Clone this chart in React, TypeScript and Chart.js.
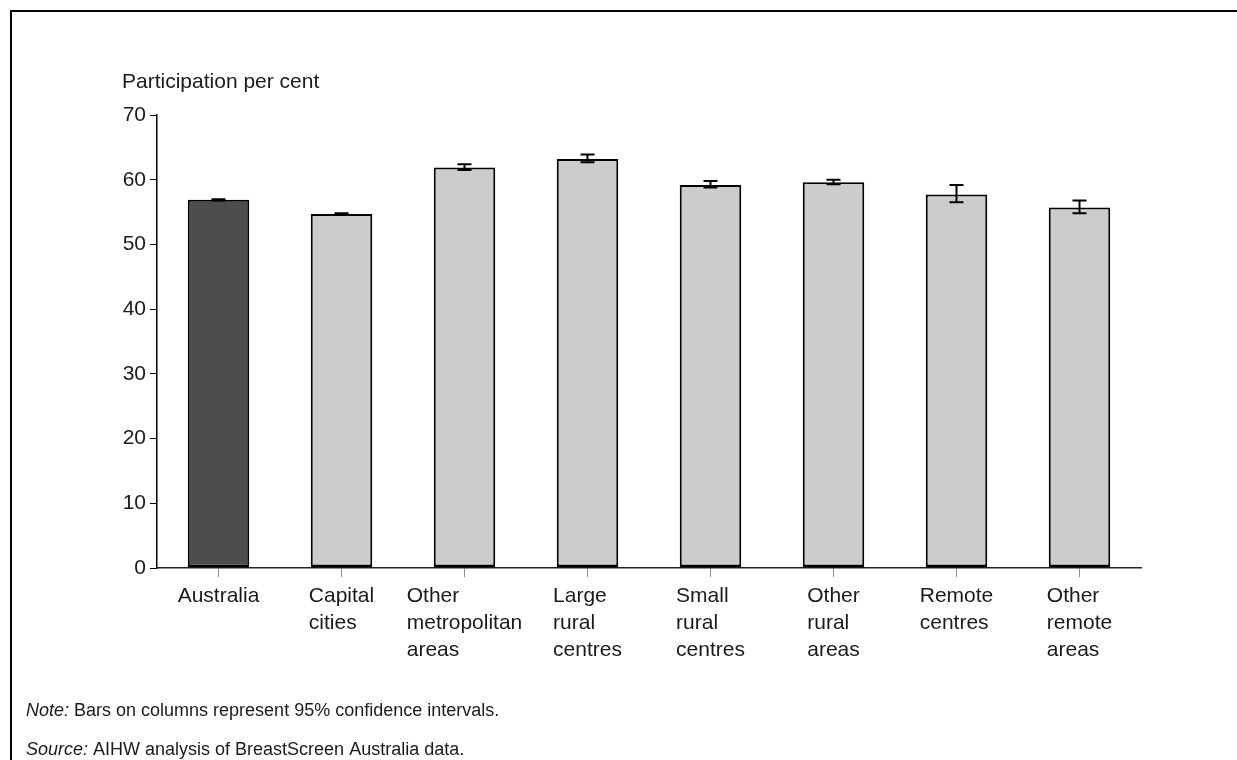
import React, { useEffect, useRef } from "react";
import { Chart, registerables } from "chart.js";

Chart.register(...registerables);

// Remoteness areas, each label split into its display lines
const categories: string[][] = [
  ["Australia"],
  ["Capital", "cities"],
  ["Other", "metropolitan", "areas"],
  ["Large", "rural", "centres"],
  ["Small", "rural", "centres"],
  ["Other", "rural", "areas"],
  ["Remote", "centres"],
  ["Other", "remote", "areas"],
];

// Participation per cent and its 95% confidence interval
const participation = [56.9, 54.7, 61.9, 63.2, 59.2, 59.6, 57.7, 55.7];
const ciLower = [56.8, 54.6, 61.5, 62.7, 58.8, 59.3, 56.5, 54.8];
const ciUpper = [57.0, 54.8, 62.4, 63.9, 59.8, 60.0, 59.2, 56.8];

const yMin = 0;
const yMax = 70;
const yStep = 10;

const yTitle = "Participation per cent";
const noteLead = "Note:";
const noteText = " Bars on columns represent 95% confidence intervals.";
const sourceLead = "Source:";
const sourceText = " AIHW analysis of BreastScreen Australia data.";

const FONT = '"Liberation Sans", Arial, Helvetica, sans-serif';
const TEXT = "#1a1a1a";

const W = 1237;
const H = 760;

const decorPlugin = {
  id: "decor",
  afterDatasetsDraw(chart: any) {
    const ctx: CanvasRenderingContext2D = chart.ctx;
    const meta = chart.getDatasetMeta(0);
    const y = chart.scales.y;
    ctx.save();
    ctx.strokeStyle = "#000";
    ctx.lineWidth = 2;
    meta.data.forEach((bar: any, i: number) => {
      const x = bar.x;
      const yHi = y.getPixelForValue(ciUpper[i]);
      const yLo = y.getPixelForValue(ciLower[i]);
      const cap = 7;
      ctx.beginPath();
      ctx.moveTo(x, yHi);
      ctx.lineTo(x, yLo);
      ctx.moveTo(x - cap, yHi);
      ctx.lineTo(x + cap, yHi);
      ctx.moveTo(x - cap, yLo);
      ctx.lineTo(x + cap, yLo);
      ctx.stroke();
    });
    ctx.restore();
  },
  afterDraw(chart: any) {
    const ctx: CanvasRenderingContext2D = chart.ctx;
    const xs = chart.scales.x;
    ctx.save();

    // frame along the top and left edges
    ctx.strokeStyle = "#000";
    ctx.lineWidth = 2;
    ctx.beginPath();
    ctx.moveTo(11, H + 5);
    ctx.lineTo(11, 11);
    ctx.lineTo(W + 5, 11);
    ctx.stroke();

    // axis title above the y axis
    ctx.fillStyle = TEXT;
    ctx.font = `21px ${FONT}`;
    ctx.textAlign = "left";
    ctx.textBaseline = "alphabetic";
    ctx.fillText(yTitle, 122, 88);

    // category labels: left-aligned blocks centred under each tick
    const lineH = 27;
    categories.forEach((lines, i) => {
      const cx = xs.getPixelForValue(i);
      const maxW = Math.max(...lines.map((l) => ctx.measureText(l).width));
      const left = cx - maxW / 2;
      lines.forEach((l, j) => {
        ctx.fillText(l, left, 602 + j * lineH);
      });
    });

    // note and source lines
    const drawMixed = (lead: string, rest: string, x: number, yb: number) => {
      ctx.font = `italic 18px ${FONT}`;
      ctx.fillText(lead, x, yb);
      const w = ctx.measureText(lead).width;
      ctx.font = `18px ${FONT}`;
      ctx.fillText(rest, x + w, yb);
    };
    drawMixed(noteLead, noteText, 26, 716);
    drawMixed(sourceLead, sourceText, 26, 755);

    ctx.restore();
  },
};

export default function App() {
  const canvasRef = useRef<HTMLCanvasElement | null>(null);

  useEffect(() => {
    const canvas = canvasRef.current;
    if (!canvas) return;
    const chart = new Chart(canvas, {
      type: "bar",
      data: {
        labels: categories.map((c) => c.join(" ")),
        datasets: [
          {
            data: participation,
            backgroundColor: participation.map((_, i) => (i === 0 ? "#4d4d4d" : "#cccccc")),
            borderColor: "#000",
            borderWidth: { top: 2, left: 2, right: 2, bottom: 3 },
            borderSkipped: false,
            barPercentage: 0.5,
            categoryPercentage: 1.0,
          },
        ],
      },
      options: {
        animation: false,
        responsive: false,
        maintainAspectRatio: false,
        devicePixelRatio: 1,
        layout: { padding: { left: 0, top: 115, right: 96, bottom: 0 } },
        plugins: {
          legend: { display: false },
          tooltip: { enabled: false },
          title: { display: false },
        },
        scales: {
          x: {
            offset: true,
            grid: {
              display: true,
              drawOnChartArea: false,
              drawTicks: true,
              tickLength: 9,
              offset: false,
              color: "#8c8c8c",
              lineWidth: 1,
            },
            border: { display: true, color: "#222", width: 1.5 },
            ticks: { display: false },
            afterFit(scale: any) {
              scale.height = 192;
            },
          },
          y: {
            min: yMin,
            max: yMax,
            grid: {
              display: true,
              drawOnChartArea: false,
              drawTicks: true,
              tickLength: 7,
              color: "#000",
              lineWidth: 1,
            },
            border: { display: true, color: "#000", width: 1.5 },
            ticks: {
              stepSize: yStep,
              padding: 4,
              color: TEXT,
              font: { family: FONT, size: 21 },
            },
            afterFit(scale: any) {
              scale.width = 157;
            },
          },
        },
      },
      plugins: [decorPlugin],
    });
    return () => chart.destroy();
  }, []);

  return (
    <div style={{ position: "fixed", left: 0, top: 0, width: W, height: H, background: "#fff" }}>
      <canvas ref={canvasRef} width={W} height={H} style={{ display: "block" }} />
    </div>
  );
}
